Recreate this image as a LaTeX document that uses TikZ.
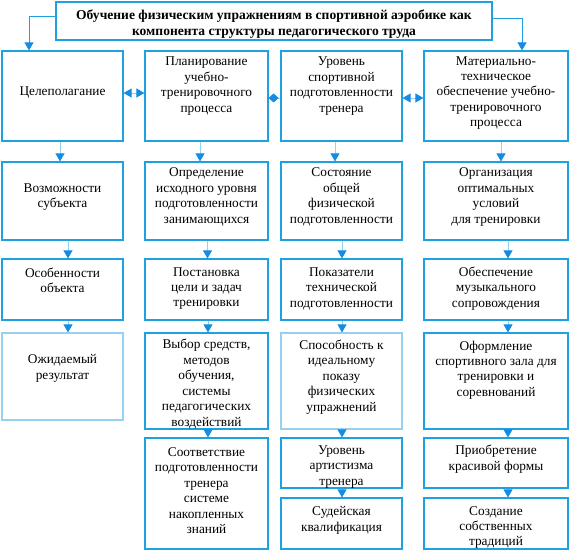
\documentclass[tikz,border=0pt]{standalone}
\usepackage{fontspec}
\setmainfont{Liberation Serif}
\usetikzlibrary{arrows.meta}

\definecolor{frame}{RGB}{30,160,225}
\definecolor{pale}{RGB}{150,210,240}
\definecolor{tip}{RGB}{20,140,225}

% Box with its text: [colour] name, x1, y1, x2, y2 (pixels from top left), text shift, text
\newcommand{\cell}[8][frame]{%
	\node [cell, draw = #1, minimum width = {(#5 - #3) * 1bp}, minimum height = {(#6 - #4) * 1bp}] (#2) at ({(#3 + #5) / 2}, {-(#4 + #6) / 2}) {};
	\node [txt] (#2-t) at ([yshift = #7bp]#2.center) {#8};
}

\begin{document}
\begin{tikzpicture}[x = 1bp, y = 1bp,
	cell/.style = {rectangle, line width = 1.2bp, inner sep = 0pt},
	txt/.style = {align = center, inner sep = 0pt, font = \fontsize{13.4}{15.5}\selectfont},
	head/.style = {txt, font = \fontsize{13.6}{16}\selectfont\bfseries},
	link/.style = {draw = pale, line width = 0.8bp, -{Triangle[color = tip, length = 8bp, width = 9bp]}},
	both/.style = {draw = pale, line width = 0.8bp, {Triangle[color = tip, length = 8bp, width = 9bp]}-{Triangle[color = tip, length = 8bp, width = 9bp]}},
	gem/.style = {draw = pale, line width = 0.8bp, {Diamond[color = tip, length = 10bp, width = 9bp]}-}]

	\useasboundingbox (0, 0) rectangle (570, -550);

	% Title

	\node [cell, draw = frame, minimum width = 436bp, minimum height = 38bp] (title) at (274, -21) {};
	\node [head] (title-t) at ([yshift = -3bp]title.center) {Обучение физическим упражнениям в спортивной аэробике как\\компонента структуры педагогического труда};

	% First column

	\cell{goal}{2}{51}{123}{141}{3}{Целеполагание}
	\cell{subj}{2}{162}{123}{240}{4}{Возможности\\субъекта}
	\cell{obj}{2}{259}{123}{320}{9}{Особенности\\объекта}
	\cell[pale]{result}{2}{333}{123}{420}{8}{Ожидаемый\\результат}

	% Second column

	\cell{plan}{145}{51}{268}{141}{10}{Планирование\\учебно-\\тренировочного\\процесса}
	\cell{init}{145}{162}{268}{240}{4}{Определение\\исходного уровня\\подготовленности\\занимающихся}
	\cell{aim}{145}{259}{268}{320}{1}{Постановка\\цели и задач\\тренировки}
	\cell{means}{145}{333}{268}{429}{-3}{Выбор средств,\\методов\\обучения,\\системы\\педагогических\\воздействий}
	\cell{match}{145}{438}{268}{549}{3}{Соответствие\\подготовленности\\тренера\\системе\\накопленных\\знаний}

	% Third column

	\cell{level}{281}{51}{402}{141}{10}{Уровень\\спортивной\\подготовленности\\тренера}
	\cell{gen}{281}{162}{402}{240}{4}{Состояние\\общей\\физической\\подготовленности}
	\cell{tech}{281}{259}{402}{320}{1}{Показатели\\технической\\подготовленности}
	\cell[pale]{show}{281}{333}{402}{429}{4}{Способность к\\идеальному\\показу\\физических\\упражнений}
	\cell{art}{281}{438}{402}{488}{-4}{Уровень\\артистизма\\тренера}
	\cell{judge}{281}{498}{402}{549}{3}{Судейская\\квалификация}

	% Fourth column

	\cell{supply}{424}{51}{568}{141}{3}{Материально-\\техническое\\обеспечение учебно-\\тренировочного\\процесса}
	\cell{cond}{424}{162}{568}{240}{4}{Организация\\оптимальных\\условий\\для тренировки}
	\cell{music}{424}{259}{568}{320}{1}{Обеспечение\\музыкального\\сопровождения}
	\cell{hall}{424}{333}{568}{429}{11}{Оформление\\спортивного зала для\\тренировки и\\соревнований}
	\cell{shape}{424}{438}{568}{488}{4}{Приобретение\\красивой формы}
	\cell{trad}{424}{498}{568}{549}{-4}{Создание\\собственных\\традиций}

	% Title to the outer columns

	\draw [link, draw = frame] ([yshift = 5bp]title.west) -| ([xshift = -33.5bp]goal.north);
	\draw [link, draw = frame] ([yshift = 3bp]title.east) -| ([xshift = 26bp]supply.north);

	% Links along the first row

	\draw [both] ([yshift = 3bp]goal.east) -- ([yshift = 3bp]plan.west);
	\draw [gem] ([yshift = -2bp]plan.east) -- ([yshift = -2bp]level.west);
	\draw [both] ([yshift = -2bp]level.east) -- ([yshift = -2bp]supply.west);

	% Links down the columns

	\foreach \a/\b/\s in {goal/subj/-2.5bp, subj/obj/5.5bp, obj/result/5.5bp,
			plan/init/-6.5bp, init/aim/1bp, aim/means/1.5bp, means/match/1.5bp,
			level/gen/-6.5bp, gen/tech/0.5bp, tech/show/0.5bp, show/art/0.5bp, art/judge/0.5bp,
			supply/cond/5bp, cond/music/12bp, music/hall/12bp, hall/shape/12bp, shape/trad/12bp}
		\draw [link] ([xshift = \s]\a.south) -- ([xshift = \s]\b.north);

\end{tikzpicture}
\end{document}
